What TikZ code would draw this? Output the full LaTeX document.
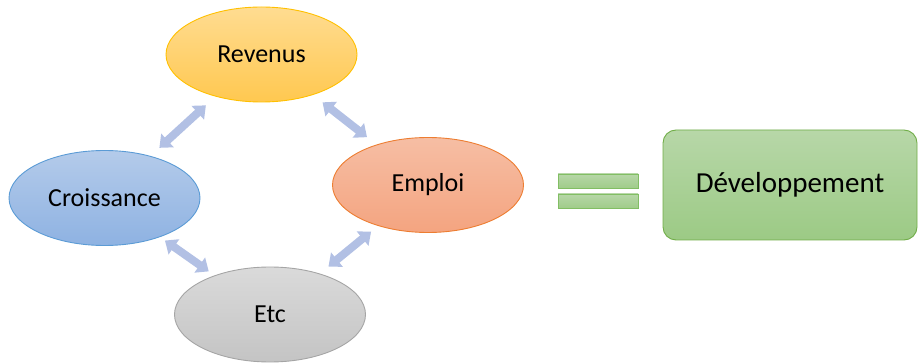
\documentclass[tikz,border=0pt]{standalone}
\usepackage{fontspec}
\setmainfont{Carlito}
\usetikzlibrary{shapes.geometric,arrows.meta}
\definecolor{arrowblue}{RGB}{178,192,228}
\tikzset{
  bubble/.style={ellipse, minimum width=#1, minimum height=95pt, inner sep=0pt, line width=0.9pt, font=\fontsize{26}{30}\selectfont},
  bubble/.default=191pt,
  link/.style={arrowblue, line width=8pt, {Triangle[length=11pt,width=18pt]}-{Triangle[length=11pt,width=18pt]}},
  bar/.style={rectangle, draw={rgb,255:red,130;green,190;blue,100}, line width=0.8pt, top color={rgb,255:red,183;green,215;blue,168}, bottom color={rgb,255:red,160;green,204;blue,138}, minimum width=80pt, minimum height=14pt, inner sep=0pt}
}
\begin{document}
\begin{tikzpicture}[x=1pt,y=-1pt]
\useasboundingbox (0,0) rectangle (918,363);
\node[bubble, draw={rgb,255:red,255;green,192;blue,0}, top color={rgb,255:red,255;green,220;blue,145}, bottom color={rgb,255:red,255;green,200;blue,80}] (rev) at (261.5,54.5) {Revenus};
\node[bubble, draw={rgb,255:red,91;green,155;blue,213}, top color={rgb,255:red,180;green,203;blue,234}, bottom color={rgb,255:red,142;green,178;blue,226}] (cro) at (104.5,198) {Croissance};
\node[bubble, draw={rgb,255:red,237;green,125;blue,49}, top color={rgb,255:red,246;green,190;blue,164}, bottom color={rgb,255:red,244;green,164;blue,128}] (emp) at (428,185) {Emploi};
\node[bubble, draw={rgb,255:red,165;green,165;blue,165}, top color={rgb,255:red,218;green,218;blue,218}, bottom color={rgb,255:red,196;green,196;blue,196}] (etc) at (270,314.5) {Etc};
\node[rectangle, rounded corners=13pt, draw={rgb,255:red,112;green,173;blue,71}, line width=0.9pt, top color={rgb,255:red,183;green,215;blue,168}, bottom color={rgb,255:red,156;green,202;blue,133}, minimum width=254pt, minimum height=110pt, inner sep=0pt, font=\fontsize{29}{33}\selectfont] (dev) at (790,185) {\raisebox{5pt}{Développement}};
\node[bar] (eq1) at (598,181) {};
\node[bar] (eq2) at (598,201) {};
\draw[link, shorten <=12pt, shorten >=13pt] (cro) -- (rev);
\draw[link, shorten <=12pt, shorten >=12pt] (rev) -- (emp);
\draw[link, shorten <=6pt, shorten >=7pt] (cro) -- (etc);
\draw[link, shorten <=11pt, shorten >=9pt] (etc) -- (emp);
\end{tikzpicture}
\end{document}
